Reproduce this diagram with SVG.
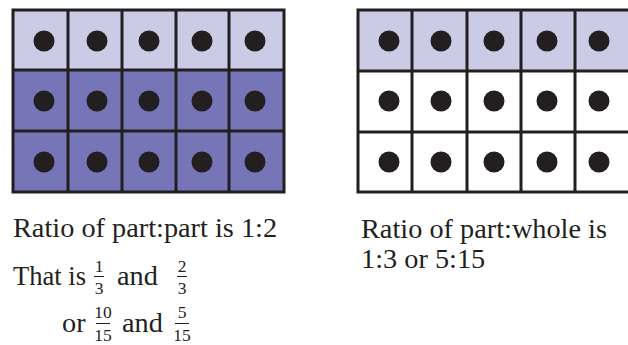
<svg xmlns="http://www.w3.org/2000/svg" width="628" height="345" viewBox="0 0 628 345">
<style>
.light{fill:#cbcbe5}
.dark{fill:#7675b7}
.white{fill:#ffffff}
.grid{fill:none;stroke:#231f20;stroke-width:3}
.dot{fill:#231f20}
.t{font-family:"Liberation Serif","Times New Roman",serif;font-size:28.3px;fill:#231f20}
.f{font-family:"Liberation Serif","Times New Roman",serif;font-size:17.5px;fill:#231f20;text-anchor:middle}
.bar{stroke:#231f20;stroke-width:1}
</style>
<defs>
<circle id="d" r="10.5" class="dot"/>
</defs>
<rect width="628" height="345" fill="#ffffff"/>
<g id="left-grid">
<rect x="13" y="10" width="271" height="60" class="light"/>
<rect x="13" y="70" width="271" height="122" class="dark"/>
<path class="grid" d="M13,10H284V192H13Z M68,10V192 M122,10V192 M176,10V192 M229,10V192 M13,70H284 M13,131H284"/>
<g>
<use href="#d" x="44" y="41"/><use href="#d" x="97" y="41"/><use href="#d" x="149" y="41"/><use href="#d" x="202" y="41"/><use href="#d" x="255" y="41"/>
<use href="#d" x="44" y="101"/><use href="#d" x="97" y="101"/><use href="#d" x="149" y="101"/><use href="#d" x="202" y="101"/><use href="#d" x="255" y="101"/>
<use href="#d" x="44" y="162"/><use href="#d" x="97" y="162"/><use href="#d" x="149" y="162"/><use href="#d" x="202" y="162"/><use href="#d" x="255" y="162"/>
</g>
</g>
<g id="right-grid">
<rect x="358" y="10" width="273" height="61" class="light"/>
<rect x="358" y="71" width="273" height="121" class="white"/>
<path class="grid" d="M358,10H631V192H358Z M412,10V192 M467,10V192 M521,10V192 M575,10V192 M358,71H631 M358,132H631"/>
<g>
<use href="#d" x="389" y="41"/><use href="#d" x="441" y="41"/><use href="#d" x="494" y="41"/><use href="#d" x="547" y="41"/><use href="#d" x="599" y="41"/>
<use href="#d" x="389" y="101"/><use href="#d" x="441" y="101"/><use href="#d" x="494" y="101"/><use href="#d" x="547" y="101"/><use href="#d" x="599" y="101"/>
<use href="#d" x="389" y="162"/><use href="#d" x="441" y="162"/><use href="#d" x="494" y="162"/><use href="#d" x="547" y="162"/><use href="#d" x="599" y="162"/>
</g>
</g>
<g id="left-text">
<text class="t" x="13" y="237">Ratio of part:part is 1:2</text>
<text class="t" x="13" y="285" textLength="73" lengthAdjust="spacingAndGlyphs">That is</text>
<text class="f" x="99" y="272">1</text>
<line class="bar" x1="94" y1="276.5" x2="104" y2="276.5"/>
<text class="f" x="99" y="294">3</text>
<text class="t" x="117" y="285">and</text>
<text class="f" x="182" y="272">2</text>
<line class="bar" x1="177" y1="276.5" x2="187" y2="276.5"/>
<text class="f" x="182" y="294">3</text>
<text class="t" x="62" y="332">or</text>
<text class="f" x="103" y="318">10</text>
<line class="bar" x1="96" y1="323.5" x2="110" y2="323.5"/>
<text class="f" x="103" y="341">15</text>
<text class="t" x="122" y="332">and</text>
<text class="f" x="182" y="318">5</text>
<line class="bar" x1="175" y1="323.5" x2="189" y2="323.5"/>
<text class="f" x="182" y="341">15</text>
</g>
<g id="right-text">
<text class="t" x="361" y="238">Ratio of part:whole is</text>
<text class="t" x="361" y="268">1:3 or 5:15</text>
</g>
</svg>
